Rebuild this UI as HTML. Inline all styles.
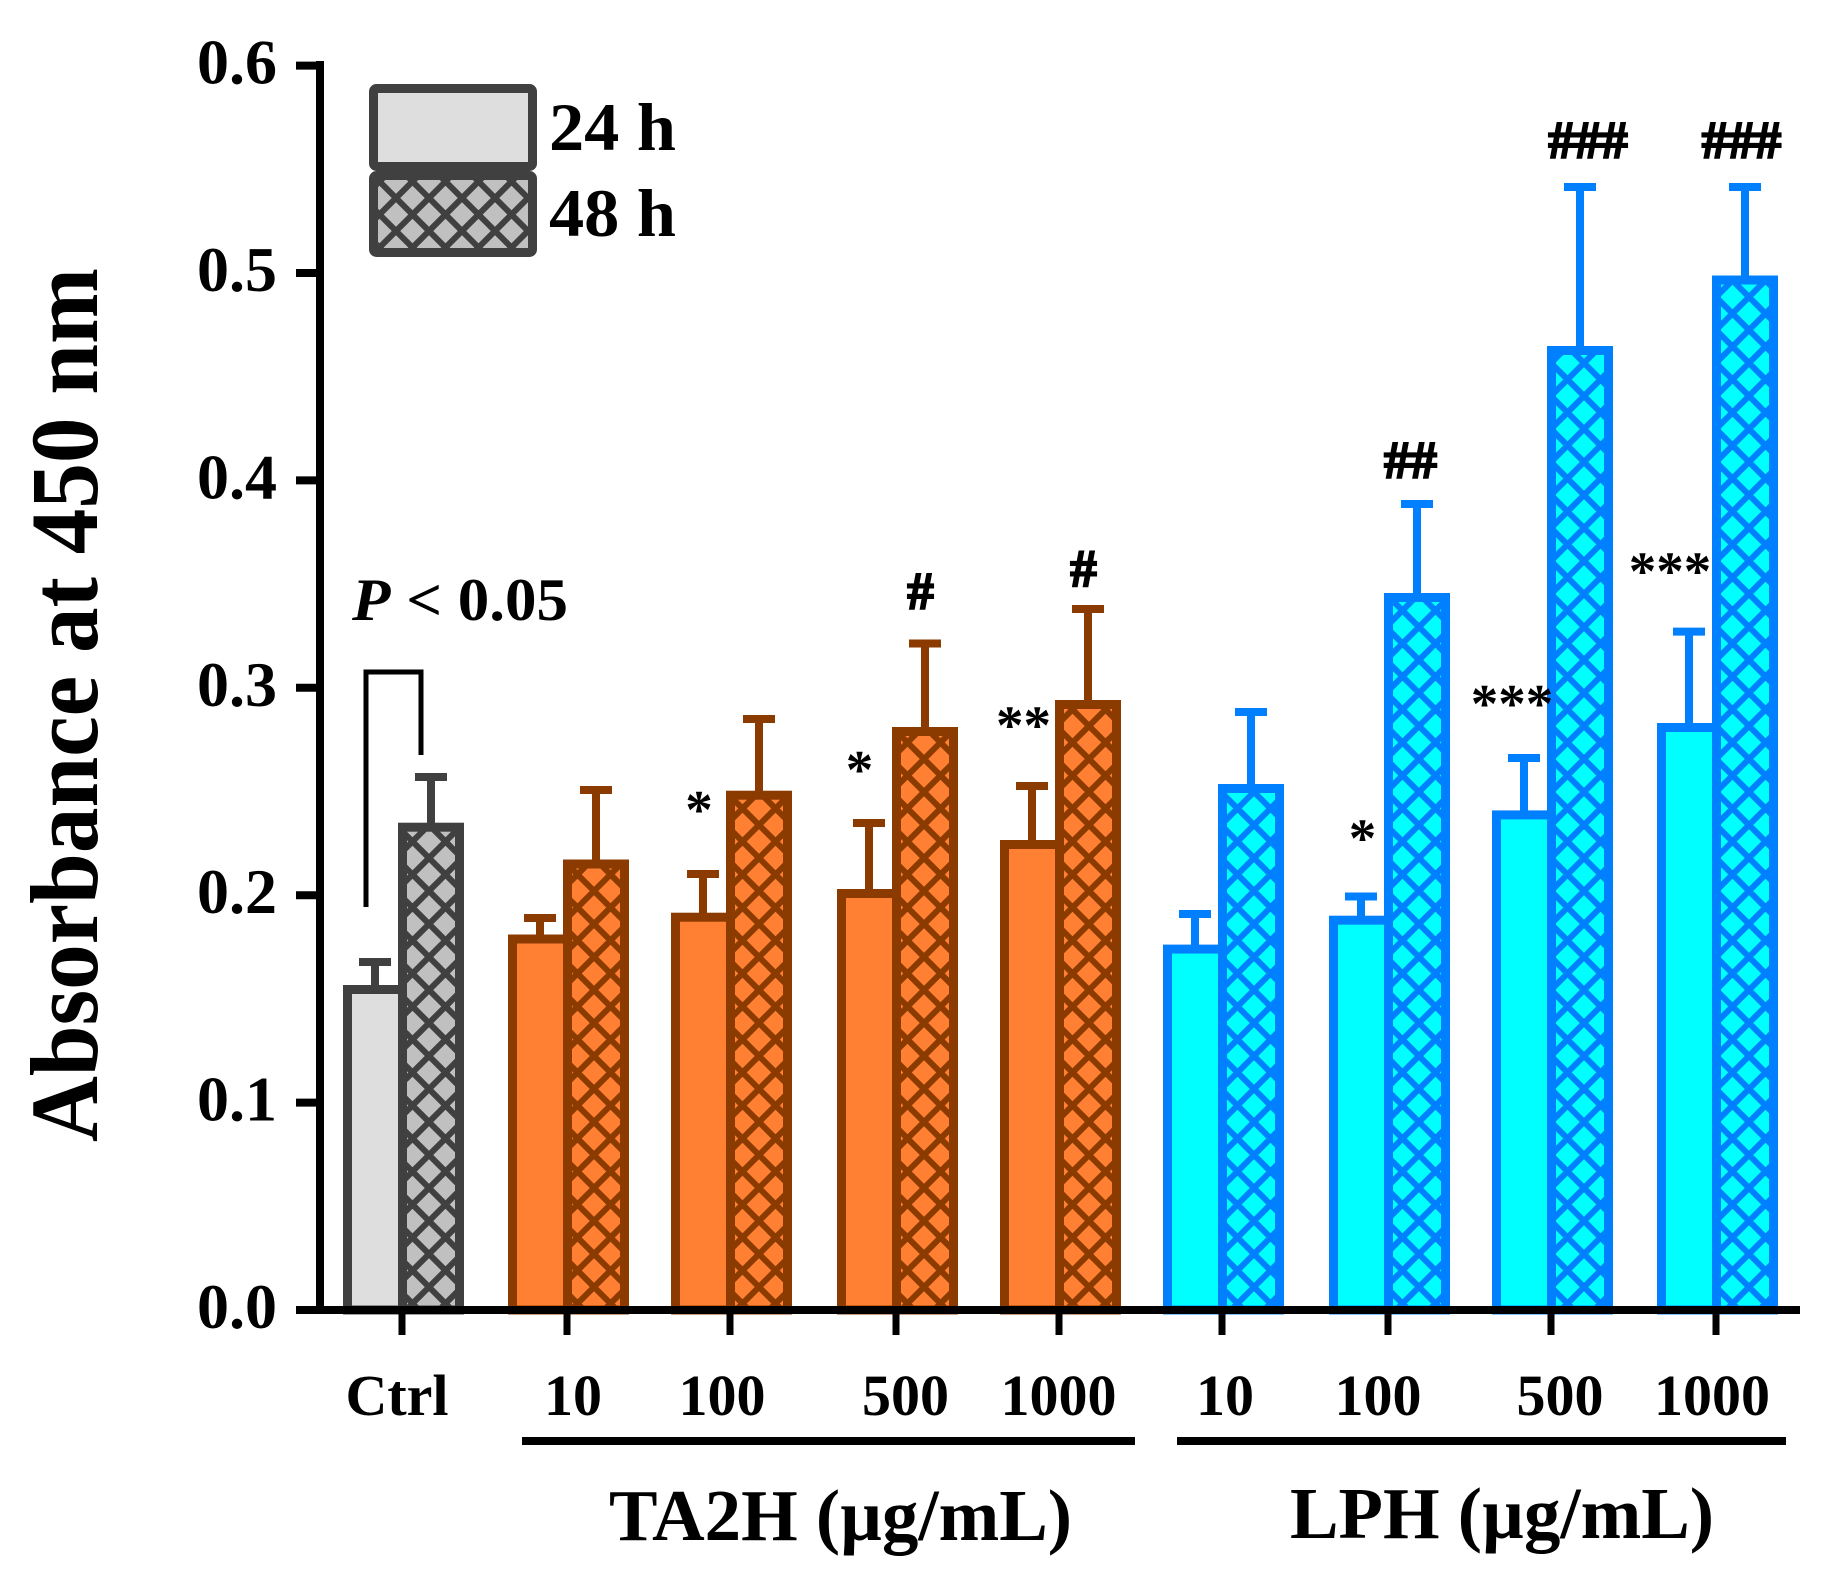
<!DOCTYPE html>
<html><head><meta charset="utf-8"><style>
html,body{margin:0;padding:0;background:#fff;}
svg{display:block;}
text{font-family:"Liberation Serif","Times New Roman",serif;font-weight:bold;fill:#000;}
</style></head><body>
<svg width="1839" height="1574" viewBox="0 0 1839 1574" xmlns="http://www.w3.org/2000/svg">
<defs>
<pattern id="pg" patternUnits="userSpaceOnUse" width="33" height="33">
<rect width="33" height="33" fill="#c0c0c0"/>
<path d="M-8,8 L8,-8 M0,33 L33,0 M25,41 L41,25 M-8,25 L8,41 M0,0 L33,33 M25,-8 L41,8" stroke="#404040" stroke-width="6"/>
</pattern>
<pattern id="po" patternUnits="userSpaceOnUse" width="33" height="33">
<rect width="33" height="33" fill="#ff8033"/>
<path d="M-8,8 L8,-8 M0,33 L33,0 M25,41 L41,25 M-8,25 L8,41 M0,0 L33,33 M25,-8 L41,8" stroke="#8b3a00" stroke-width="6"/>
</pattern>
<pattern id="pb" patternUnits="userSpaceOnUse" width="33" height="33">
<rect width="33" height="33" fill="#00ffff"/>
<path d="M-8,8 L8,-8 M0,33 L33,0 M25,41 L41,25 M-8,25 L8,41 M0,0 L33,33 M25,-8 L41,8" stroke="#0080ff" stroke-width="6"/>
</pattern>
</defs>
<rect width="1839" height="1574" fill="#fff"/>

<!-- Legend -->
<rect x="373.5" y="88.5" width="159" height="78" rx="3" fill="#dedede" stroke="#404040" stroke-width="9"/>
<rect x="373.5" y="175.5" width="159" height="77" rx="3" fill="url(#pg)" stroke="#404040" stroke-width="9"/>
<text x="549" y="150" font-size="68" textLength="127" lengthAdjust="spacingAndGlyphs">24 h</text>
<text x="549" y="236" font-size="68" textLength="127" lengthAdjust="spacingAndGlyphs">48 h</text>

<!-- Y label -->
<text transform="translate(97,705) rotate(-90)" text-anchor="middle" font-size="96" textLength="874" lengthAdjust="spacingAndGlyphs">Absorbance at 450 nm</text>

<!-- P < 0.05 -->
<text x="352" y="620" font-size="60" textLength="216" lengthAdjust="spacingAndGlyphs"><tspan font-style="italic">P</tspan> &lt; 0.05</text>
<polyline points="366,907 366,672 421,672 421,755" fill="none" stroke="#000" stroke-width="5"/>

<!-- Bars -->
<g stroke-width="9">
<rect x="347.5" y="989.5" width="55" height="320.5" fill="#dedede" stroke="#404040"/>
<rect x="402.5" y="827.2" width="57" height="482.8" fill="url(#pg)" stroke="#404040"/>

<rect x="512.5" y="939" width="55" height="371" fill="#ff8033" stroke="#8b3a00"/>
<rect x="567.5" y="864" width="57" height="446" fill="url(#po)" stroke="#8b3a00"/>
<rect x="675.5" y="917.2" width="55" height="392.8" fill="#ff8033" stroke="#8b3a00"/>
<rect x="730.5" y="795.2" width="57" height="514.8" fill="url(#po)" stroke="#8b3a00"/>
<rect x="841.5" y="893.5" width="55" height="416.5" fill="#ff8033" stroke="#8b3a00"/>
<rect x="896.5" y="731.5" width="57" height="578.5" fill="url(#po)" stroke="#8b3a00"/>
<rect x="1004.5" y="844.5" width="55" height="465.5" fill="#ff8033" stroke="#8b3a00"/>
<rect x="1059.5" y="704.5" width="57" height="605.5" fill="url(#po)" stroke="#8b3a00"/>

<rect x="1167.5" y="949.1" width="55" height="360.9" fill="#00ffff" stroke="#0080ff"/>
<rect x="1222.5" y="788.5" width="57" height="521.5" fill="url(#pb)" stroke="#0080ff"/>
<rect x="1333.5" y="920.2" width="55" height="389.8" fill="#00ffff" stroke="#0080ff"/>
<rect x="1388.5" y="597.5" width="57" height="712.5" fill="url(#pb)" stroke="#0080ff"/>
<rect x="1496.5" y="814.9" width="55" height="495.1" fill="#00ffff" stroke="#0080ff"/>
<rect x="1551.5" y="350.5" width="57" height="959.5" fill="url(#pb)" stroke="#0080ff"/>
<rect x="1661.5" y="727.5" width="55" height="582.5" fill="#00ffff" stroke="#0080ff"/>
<rect x="1716.5" y="280" width="57" height="1030" fill="url(#pb)" stroke="#0080ff"/>
</g>

<!-- Error bars -->
<g stroke-width="8" fill="none">
<path d="M375,986 V962 M359,962 H391 M431,824 V777 M415,777 H447" stroke="#404040"/>
<path d="M540,936 V918 M524,918 H556 M596,861 V790 M580,790 H612
M703,914 V874 M687,874 H719 M759,792 V719 M743,719 H775
M869,890 V823 M853,823 H885 M925,728 V643.5 M909,643.5 H941
M1032,841 V786 M1016,786 H1048 M1088,701 V609 M1072,609 H1104" stroke="#8b3a00"/>
<path d="M1195,946 V914 M1179,914 H1211 M1251,785 V712 M1235,712 H1267
M1361,917 V896.5 M1345,896.5 H1377 M1417,594 V504 M1401,504 H1433
M1524,811 V758 M1508,758 H1540 M1580,347 V187 M1564,187 H1596
M1689,724 V631.6 M1673,631.6 H1705 M1745,277 V187 M1729,187 H1761" stroke="#0080ff"/>
</g>

<!-- Significance marks -->
<g text-anchor="middle">
<text x="699" y="828" font-size="55">*</text>
<text x="859.5" y="788" font-size="55">*</text>
<text x="1023.5" y="743.5" font-size="55">**</text>
<text x="1362.5" y="856.6" font-size="55">*</text>
<text x="1512" y="722" font-size="55">***</text>
<text x="1670" y="589.5" font-size="55">***</text>
</g>
<g text-anchor="middle" stroke="#000" stroke-width="2">
<text x="920.5" y="608.5" font-size="53">#</text>
<text x="1083.5" y="586" font-size="53">#</text>
<text x="1410.5" y="477.5" font-size="53">##</text>
<text x="1588" y="157.5" font-size="53">###</text>
<text x="1741.5" y="157.5" font-size="53">###</text>
</g>

<!-- Axes -->
<g stroke="#000" stroke-width="8" fill="none">
<line x1="320" y1="61" x2="320" y2="1314"/>
<line x1="296" y1="1310" x2="1800" y2="1310"/>
<path d="M296,65.6 H320 M296,273 H320 M296,480.4 H320 M296,687.8 H320 M296,895.2 H320 M296,1102.6 H320"/>
</g>
<g stroke="#000" stroke-width="7">
<path d="M402,1310 V1335 M567,1310 V1335 M730,1310 V1335 M896,1310 V1335 M1059,1310 V1335 M1222,1310 V1335 M1388,1310 V1335 M1551,1310 V1335 M1716,1310 V1335"/>
</g>

<!-- Y tick labels -->
<g text-anchor="end" font-size="64">
<text x="277" y="83.6" font-size="64">0.6</text>
<text x="277" y="291" font-size="64">0.5</text>
<text x="277" y="498.4" font-size="64">0.4</text>
<text x="277" y="705.8" font-size="64">0.3</text>
<text x="277" y="913.2" font-size="64">0.2</text>
<text x="277" y="1120.6" font-size="64">0.1</text>
<text x="277" y="1328" font-size="64">0.0</text>
</g>

<!-- X labels -->
<g text-anchor="middle">
<text x="397" y="1415" font-size="58">Ctrl</text>
<text x="573" y="1415" font-size="58">10</text>
<text x="722" y="1415" font-size="58">100</text>
<text x="905.5" y="1415" font-size="58">500</text>
<text x="1058.5" y="1415" font-size="58">1000</text>
<text x="1225" y="1415" font-size="58">10</text>
<text x="1378" y="1415" font-size="58">100</text>
<text x="1560" y="1415" font-size="58">500</text>
<text x="1712" y="1415" font-size="58">1000</text>
</g>

<g stroke="#000" stroke-width="8">
<line x1="522" y1="1441" x2="1135" y2="1441"/>
<line x1="1177" y1="1441" x2="1786" y2="1441"/>
</g>

<text x="609" y="1540" font-size="73" textLength="463" lengthAdjust="spacingAndGlyphs">TA2H (µg/mL)</text>
<text x="1290" y="1538" font-size="73" textLength="424" lengthAdjust="spacingAndGlyphs">LPH (µg/mL)</text>
</svg>
</body></html>
